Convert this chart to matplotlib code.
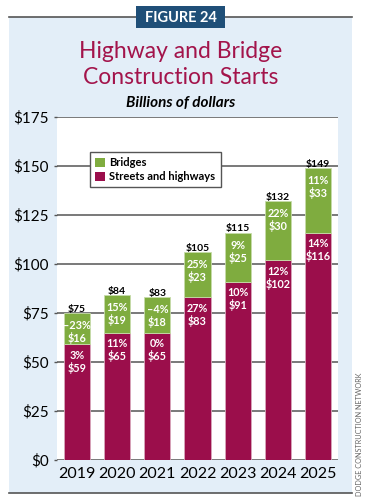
import matplotlib
matplotlib.use("Agg")
import matplotlib.pyplot as plt
from matplotlib.patches import Rectangle, Patch
from matplotlib.lines import Line2D

years = ["2019", "2020", "2021", "2022", "2023", "2024", "2025"]
streets = [59, 65, 65, 83, 91, 102, 116]
bridges = [16, 19, 18, 23, 25, 30, 33]
totals = [75, 84, 83, 105, 115, 132, 149]
streets_pct = ["3%", "11%", "0%", "27%", "10%", "12%", "14%"]
bridges_pct = ["\u201323%", "15%", "\u20134%", "25%", "9%", "22%", "11%"]
yticks = [0, 25, 50, 75, 100, 125, 150, 175]

MAROON = "#9b0e4b"
GREEN = "#7fac3f"
PANEL = "#e3eef8"
TITLE = "#a3144b"
NAVY = "#1f4f78"

plt.rcParams['font.family'] = ['Lato', 'DejaVu Sans']

W, H = 368, 500
fig = plt.figure(figsize=(W / 100, H / 100), dpi=100)

def fx(px):
    return px / W

def fy(py):
    return 1 - py / H

# background panel
fig.patches.append(Rectangle((fx(9), fy(493)), fx(352) - fx(9), fy(17) - fy(493),
                             transform=fig.transFigure, facecolor=PANEL, edgecolor='none', zorder=-2))
fig.lines.append(Line2D([fx(9), fx(352)], [fy(17), fy(17)], transform=fig.transFigure,
                        color="#555555", lw=1.2, zorder=-1))
fig.lines.append(Line2D([fx(9), fx(352)], [fy(493), fy(493)], transform=fig.transFigure,
                        color="#555555", lw=1.2, zorder=-1))
fig.patches.append(Rectangle((fx(136), fy(28)), fx(225) - fx(136), fy(6) - fy(28),
                             transform=fig.transFigure, facecolor=NAVY, edgecolor='none', zorder=2))
fig.text(fx(180.5), fy(17.5), "FIGURE 24", color="white", fontsize=10.5, fontweight='bold',
         ha='center', va='center', zorder=3)

fig.text(fx(181), fy(51), "Highway and Bridge", color=TITLE, fontsize=16.5,
         ha='center', va='center')
fig.text(fx(181), fy(78), "Construction Starts", color=TITLE, fontsize=16.5,
         ha='center', va='center')
fig.text(fx(181), fy(103), "Billions of dollars", color="black", fontsize=11,
         fontweight='bold', fontstyle='italic', ha='center', va='center')

fig.text(fx(360), fy(434), "DODGE CONSTRUCTION NETWORK", color="#666666", fontsize=5.2,
         rotation=90, ha='center', va='center')

ax = fig.add_axes([fx(57), fy(460), fx(338) - fx(57), fy(117) - fy(460)])
ax.set_zorder(5)
ax.set_facecolor("white")
x = list(range(len(years)))
bw = 0.65
ax.bar(x, streets, width=bw, color=MAROON, edgecolor="#d9a7bb", linewidth=0.6, zorder=3,
       label="Streets and highways")
ax.bar(x, bridges, width=bw, bottom=streets, color=GREEN, edgecolor="#c7dcaa", linewidth=0.6,
       zorder=3, label="Bridges")

LBL = 7.8
for i in x:
    top_s = streets[i]
    top_t = totals[i]
    bar_top = streets[i] + bridges[i]
    ax.annotate(streets_pct[i], (i, top_s), xytext=(0, -8), textcoords='offset points',
                ha='center', va='center', color='white', fontsize=LBL, fontweight='bold', zorder=4)
    ax.annotate(f"${streets[i]}", (i, top_s), xytext=(0, -17), textcoords='offset points',
                ha='center', va='center', color='white', fontsize=LBL, fontweight='bold', zorder=4)
    ax.annotate(bridges_pct[i], (i, bar_top), xytext=(0, -9), textcoords='offset points',
                ha='center', va='center', color='white', fontsize=LBL, fontweight='bold', zorder=4)
    ax.annotate(f"${bridges[i]}", (i, bar_top), xytext=(0, -18), textcoords='offset points',
                ha='center', va='center', color='white', fontsize=LBL, fontweight='bold', zorder=4)
    ax.annotate(f"${top_t}", (i, bar_top), xytext=(0, 2.8), textcoords='offset points',
                ha='center', va='center', color='black', fontsize=7.5, fontweight='bold', zorder=4)

ax.set_xlim(-0.5, 6.5)
ax.set_ylim(0, 175)
ax.set_yticks(yticks)
ax.set_yticklabels([f"${v}" for v in yticks], fontsize=11)
ax.set_xticks(x)
ax.set_xticklabels(years, fontsize=11.5)
ax.tick_params(axis='y', length=2, width=1, color="#555555", pad=4)
ax.tick_params(axis='x', length=0, pad=5)
for s in ax.spines.values():
    s.set_visible(False)
ax.yaxis.grid(True, color="#555555", lw=1.1, zorder=1)
ax.set_axisbelow(True)

handles = [Patch(facecolor=GREEN, edgecolor='none', label="Bridges"),
           Patch(facecolor=MAROON, edgecolor='none', label="Streets and highways")]
leg = fig.legend(handles=handles, loc='upper left',
                 bbox_to_anchor=(fx(90), fy(152)), bbox_transform=fig.transFigure,
                 frameon=True, fancybox=False, edgecolor="#555555", framealpha=1,
                 prop={'weight': 'bold', 'size': 8}, handlelength=0.9, handleheight=0.9,
                 handletextpad=0.4, borderpad=0.45, labelspacing=0.3, borderaxespad=0)
leg.get_frame().set_linewidth(1.0)
leg.set_zorder(10)

fig.savefig("out.png", dpi=100)
